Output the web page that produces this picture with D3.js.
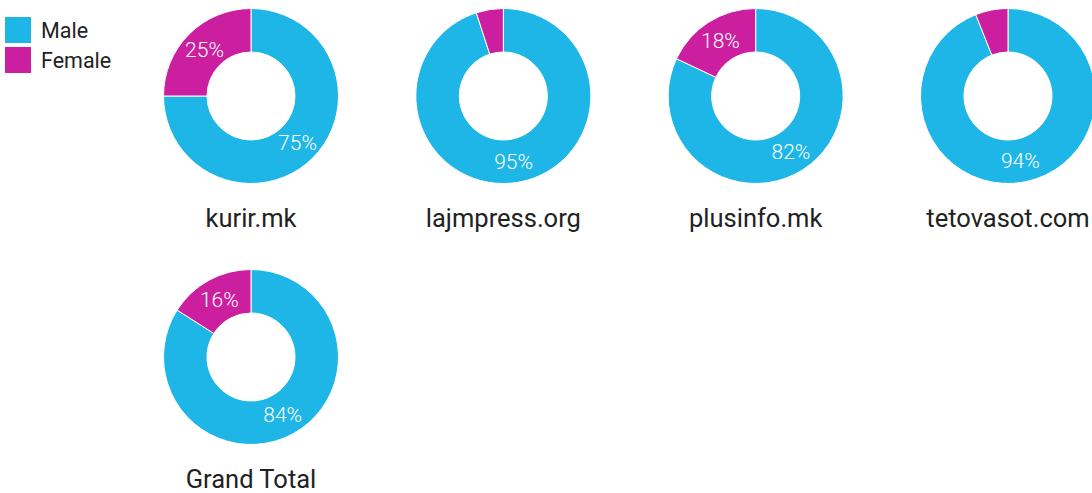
<!DOCTYPE html>
<html>
<head>
<meta charset="utf-8">
<script src="https://cdn.jsdelivr.net/npm/d3@7"></script>
<style>
  html, body { margin: 0; padding: 0; background: #fff; overflow: hidden; }
  svg { display: block; font-family: Roboto, "Noto Sans", sans-serif; }
</style>
</head>
<body>
<svg id="chart" width="1092" height="493"></svg>
<script>
/*
  gender share per news site, drawn as donuts
*/

// data
var sites = ["kurir.mk", "lajmpress.org", "plusinfo.mk", "tetovasot.com", "Grand Total"];
var male = [75, 95, 82, 94, 84];
var female = [25, 5, 18, 6, 16];
var genders = ["Male", "Female"];
var colors = ["#1db6e6", "#cb1f9f"];

var svg = d3.select("#chart");
var color = d3.scaleOrdinal().domain(genders).range(colors);

// grid of donuts: 4 per row
var perRow = 4;
var xPos = d3.scaleLinear().domain([0, perRow - 1]).range([251, 1008]);
var yPos = d3.scaleLinear().domain([0, 1]).range([96, 357]);

var outerR = 87.5, innerR = 44;
var arc = d3.arc().innerRadius(innerR).outerRadius(outerR);
var pie = d3.pie().sort(null).value(function(d) { return d.value; });

sites.forEach(function(site, i) {
  var g = svg.append("g")
    .attr("transform", "translate(" + xPos(i % perRow) + "," + yPos(Math.floor(i / perRow)) + ")");

  var slices = pie([
    {key: "Male", value: male[i]},
    {key: "Female", value: female[i]}
  ]);

  g.selectAll("path")
    .data(slices)
    .enter().append("path")
    .attr("d", arc)
    .attr("fill", function(d) { return color(d.data.key); })
    .attr("stroke", "#fff")
    .attr("stroke-width", 1);

  // only label slices that are big enough
  g.selectAll("text.pct")
    .data(slices.filter(function(d) { return d.data.value >= 10; }))
    .enter().append("text")
    .attr("class", "pct")
    .attr("transform", function(d) { return "translate(" + arc.centroid(d) + ")"; })
    .attr("text-anchor", "middle")
    .attr("dy", "0.36em")
    .attr("fill", "#fff")
    .style("font-size", "21px")
    .style("font-weight", 300)
    .text(function(d) { return d.data.value + "%"; });

  g.append("text")
    .attr("x", 0)
    .attr("y", 131)
    .attr("text-anchor", "middle")
    .attr("fill", "#222")
    .style("font-size", "25.5px")
    .text(site);
});

// legend
var legend = svg.append("g").attr("transform", "translate(5,17)");
var item = legend.selectAll("g")
  .data(genders)
  .enter().append("g")
  .attr("transform", function(d, i) { return "translate(0," + (i * 30) + ")"; });

item.append("rect")
  .attr("width", 26)
  .attr("height", 26)
  .attr("fill", function(d) { return color(d); });

item.append("text")
  .attr("x", 36)
  .attr("y", 21)
  .attr("fill", "#222")
  .style("font-size", "21.5px")
  .text(function(d) { return d; });
</script>
</body>
</html>
